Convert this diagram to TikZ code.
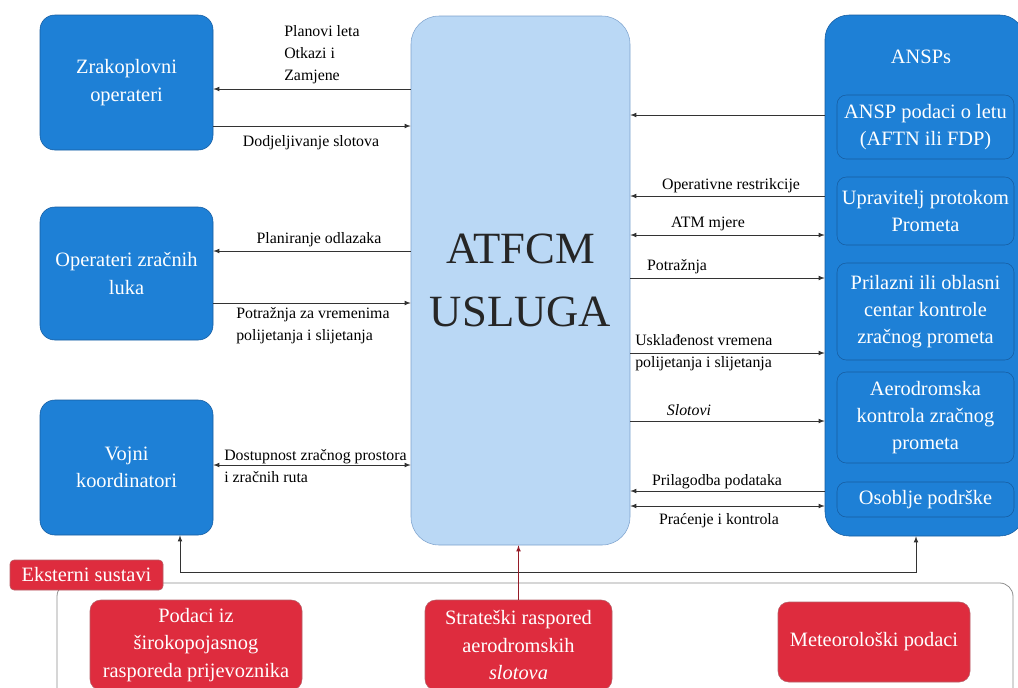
\documentclass[tikz,border=0pt]{standalone}
\usepackage{fontspec}
\setmainfont{Liberation Serif}
\usetikzlibrary{arrows}

\definecolor{opblue}{RGB}{30,128,214}
\definecolor{opline}{RGB}{22,92,160}
\definecolor{atfill}{RGB}{186,216,245}
\definecolor{atline}{RGB}{125,162,205}
\definecolor{extred}{RGB}{222,44,62}
\definecolor{extline}{RGB}{150,28,40}

\tikzset{
  opbox/.style={draw=opline, fill=opblue, rounded corners=11pt, text=white, align=center,
    inner sep=0pt, font=\fontsize{15.3}{20.5}\selectfont},
  subbox/.style={opbox, rounded corners=7pt, minimum width=132.75pt},
  extbox/.style={draw=extline!70, fill=extred, rounded corners=8pt, text=white, align=center,
    inner sep=0pt, font=\fontsize{15.3}{20.5}\selectfont},
  lbl/.style={inner sep=0pt, font=\fontsize{11.9}{16.5}\selectfont},
  flow/.style={draw=black!80, line width=0.6pt}
}

\begin{document}
\begin{tikzpicture}[x=0.75pt,y=-0.75pt]
    \useasboundingbox (0,0) rectangle (1018,687);

    \node[opbox, minimum width=129.75pt, minimum height=101.25pt] (zrak) at (126.5,82.5) {Zrakoplovni\\operateri};
    \node[opbox, minimum width=129.75pt, minimum height=99.75pt] (luke) at (126.5,273.5) {Operateri zračnih\\luka};
    \node[opbox, minimum width=129.75pt, minimum height=101.25pt] (vojni) at (126.5,467.5) {Vojni\\koordinatori};

    \node[draw=atline, fill=atfill, rounded corners=21pt, minimum width=164.25pt, minimum height=396.75pt,
      align=center, font=\fontsize{33.5}{47}\selectfont, text=black!85] (atfcm) at (520.5,280.5) {ATFCM\\USLUGA};

    \node[opbox, rounded corners=18pt, minimum width=149.25pt, minimum height=390.75pt] (ansp) at (924.5,275.5) {};
    \node[text=white, font=\fontsize{15.3}{20.5}\selectfont] (ansptitle) at (921,57) {ANSPs};
    \node[subbox, minimum height=48pt] (podaci) at (925.5,127) {ANSP podaci o letu\\(AFTN ili FDP)};
    \node[subbox, minimum height=51pt] (uprav) at (925.5,211) {Upravitelj protokom\\Prometa};
    \node[subbox, minimum height=72.75pt] (prilaz) at (925.5,311.5) {Prilazni ili oblasni\\centar kontrole\\zračnog prometa};
    \node[subbox, minimum height=68.25pt] (aero) at (925.5,417.5) {Aerodromska\\kontrola zračnog\\prometa};
    \node[subbox, minimum height=26.25pt] (osoblje) at (925.5,499.5) {Osoblje podrške};

    \draw[flow, -latex] (atfcm.west |- 0,89) -- (zrak.east |- 0,89);
    \draw[flow, -latex] (zrak.east |- 0,126) -- (atfcm.west |- 0,126);
    \draw[flow, -latex] (atfcm.west |- 0,251) -- (luke.east |- 0,251);
    \draw[flow, -latex] (luke.east |- 0,303) -- (atfcm.west |- 0,303);
    \draw[flow, latex-latex] (vojni.east |- 0,465) -- (atfcm.west |- 0,465);

    \node[lbl, anchor=west, align=left] (planovi) at (284,55) {Planovi leta\\Otkazi i\\Zamjene};
    \node[lbl] (dodj) at (311,143) {Dodjeljivanje slotova};
    \node[lbl] (planir) at (319,240) {Planiranje odlazaka};
    \node[lbl, anchor=west, align=left] (potrvr) at (236,326) {Potražnja za vremenima\\polijetanja i slijetanja};
    \node[lbl, anchor=west, align=left] (dostup) at (224,466) {Dostupnost zračnog prostora\\i zračnih ruta};

    \draw[flow, -latex] (ansp.west |- 0,115) -- (atfcm.east |- 0,115);
    \draw[flow, -latex] (ansp.west |- 0,196) -- (atfcm.east |- 0,196);
    \draw[flow, latex-latex] (atfcm.east |- 0,235) -- (ansp.west |- 0,235);
    \draw[flow, -latex] (atfcm.east |- 0,278) -- (ansp.west |- 0,278);
    \draw[flow, -latex] (atfcm.east |- 0,353) -- (ansp.west |- 0,353);
    \draw[flow, -latex] (atfcm.east |- 0,421) -- (ansp.west |- 0,421);
    \draw[flow, -latex] (ansp.west |- 0,491) -- (atfcm.east |- 0,491);
    \draw[flow, latex-latex] (atfcm.east |- 0,506) -- (ansp.west |- 0,506);

    \node[lbl] (operat) at (731,186) {Operativne restrikcije};
    \node[lbl] (atm) at (708,224) {ATM mjere};
    \node[lbl] (potraz) at (677,267) {Potražnja};
    \node[lbl, anchor=west, align=left] (uskl) at (635,353) {Usklađenost vremena\\polijetanja i slijetanja};
    \node[lbl] (slot) at (689,410) {\itshape Slotovi};
    \node[lbl] (prilag) at (717,482) {Prilagodba podataka};
    \node[lbl] (pracen) at (719,521) {Praćenje i kontrola};

    \coordinate (fbl) at (180,572);
    \coordinate (fbr) at (916,572);
    \draw[flow, latex-latex] (vojni.south -| fbl) -- (fbl) -- (fbr) -- (ansp.south -| fbr);

    \draw[draw=black!45, line width=0.6pt, rounded corners=10pt] (57,583) rectangle (1013,705);
    \node[extbox, rounded corners=3pt, minimum width=114.75pt, minimum height=22.5pt] (ekst) at (86.5,575) {Eksterni sustavi};
    \node[extbox, minimum width=159pt, minimum height=67.5pt] (sirok) at (196,645) {Podaci iz\\širokopojasnog\\rasporeda prijevoznika};
    \node[extbox, minimum width=140.25pt, minimum height=67.5pt] (strat) at (518.5,645) {Strateški raspored\\aerodromskih\\\textit{slotova}};
    \node[extbox, minimum width=144pt, minimum height=60pt] (meteo) at (874,642) {Meteorološki podaci};

    \draw[flow, draw=extline, -latex] (strat.north) -- (atfcm.south -| strat.north);
\end{tikzpicture}
\end{document}
